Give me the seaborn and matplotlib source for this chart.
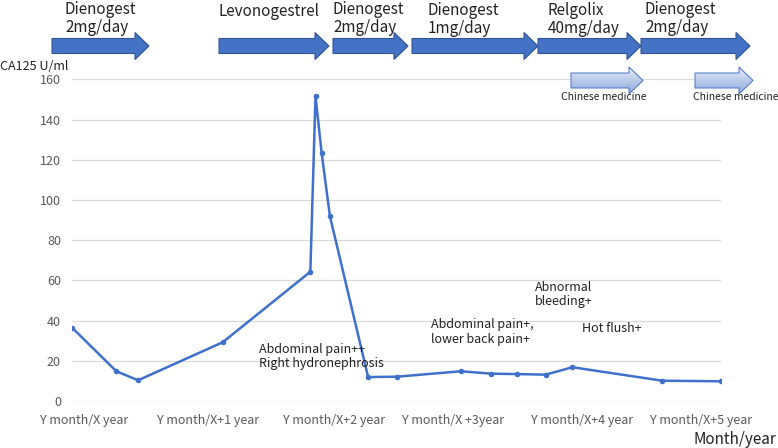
import matplotlib
matplotlib.use("Agg")
import matplotlib.pyplot as plt
import seaborn as sns
import numpy as np
import pandas as pd
from matplotlib.patches import Polygon
from matplotlib.colors import LinearSegmentedColormap

# CA125 measurements (months since first visit, U/ml)
months = [0, 4.3, 6.4, 14.6, 23.1, 23.6, 24.2, 25.0, 28.7, 31.5,
          37.7, 40.6, 43.1, 45.9, 48.5, 57.2, 62.9]
ca125 = [36.5, 14.8, 10.3, 29.2, 64.3, 151.7, 123.2, 91.9, 11.9, 12.1,
         14.8, 13.6, 13.4, 13.1, 16.8, 10.1, 9.8]

tick_months = [1.2, 13.2, 25.4, 36.9, 49.4, 61.0]
tick_labels = ["Y month/X year", "Y month/X+1 year", "Y month/X+2 year",
               "Y month/X +3year", "Y month/X+4 year", "Y month/X+5 year"]

treatments = ["Dienogest\n2mg/day", "Levonogestrel", "Dienogest\n2mg/day",
              "Dienogest\n1mg/day", "Relgolix\n40mg/day", "Dienogest\n2mg/day"]
symptoms = ["Abdominal pain++\nRight hydronephrosis",
            "Abdominal pain+,\nlower back pain+",
            "Abnormal\nbleeding+", "Hot flush+"]

W, H = 778, 448
BLUE = "#4472C4"

sns.set_theme(style="white")
plt.rcParams["font.family"] = ["Noto Sans CJK JP", "DejaVu Sans"]

fig = plt.figure(figsize=(W / 100, H / 100), dpi=100)
ax = fig.add_axes([72 / W, 1 - 401 / H, (721 - 72) / W, (401 - 79.4) / H])

df = pd.DataFrame({"month": months, "ca125": ca125})
sns.lineplot(data=df, x="month", y="ca125", estimator=None, color="#3F70CC",
             linewidth=1.8, marker="o", markersize=4, markeredgewidth=0, ax=ax)

ax.set_xlim(0, 62.9)
ax.set_ylim(0, 160)
ax.set_yticks(range(0, 161, 20))
ax.set_xticks(tick_months)
ax.set_xticklabels(tick_labels)
ax.set_xlabel("")
ax.set_ylabel("")
ax.yaxis.grid(True, color="#d9d9d9", linewidth=0.9)
ax.set_axisbelow(True)
for s in ax.spines.values():
    s.set_visible(False)
ax.tick_params(length=0, labelsize=9, colors="#595959", pad=8)
ax.tick_params(axis="x", pad=9)

# overlay in pixel coordinates for the treatment timeline and notes
ov = fig.add_axes([0, 0, 1, 1], facecolor="none")
ov.axis("off")


def arrow_pts(x0, x1, yc, bh=15, hh=27, hl=14):
    return [(x0, yc - bh / 2), (x1 - hl, yc - bh / 2), (x1 - hl, yc - hh / 2),
            (x1, yc), (x1 - hl, yc + hh / 2), (x1 - hl, yc + bh / 2),
            (x0, yc + bh / 2)]


arrow_spans = [(52, 149), (219, 329), (333, 408), (412, 538), (538, 641), (641, 750)]
label_pos = [(65, 1), (219, 3), (333, 1), (428, 2), (548, 2), (645, 1)]
for (x0, x1), (tx, ty), name in zip(arrow_spans, label_pos, treatments):
    ov.add_patch(Polygon(arrow_pts(x0, x1, 46), closed=True, facecolor=BLUE,
                         edgecolor="#2F5597", linewidth=0.8))
    ov.text(tx, ty, name, fontsize=11, color="#222222", va="top", ha="left",
            linespacing=1.05)

grad_cmap = LinearSegmentedColormap.from_list("cm", ["#e4ebf7", "#8faadc"])
grad = np.linspace(0, 1, 64).reshape(-1, 1)
for (x0, x1), tx in zip([(571, 643), (695, 753)], [561, 693]):
    pts = arrow_pts(x0, x1, 80.5, bh=15, hh=27, hl=14)
    poly = Polygon(pts, closed=True, facecolor="none", edgecolor=BLUE,
                   linewidth=0.7, zorder=2)
    ov.add_patch(poly)
    im = ov.imshow(grad, cmap=grad_cmap, aspect="auto",
                   extent=[x0, x1, 80.5 + 13.5, 80.5 - 13.5], zorder=1)
    im.set_clip_path(poly)
    ov.text(tx, 97, "Chinese medicine", fontsize=7.5, color="#222222",
            va="center", ha="left")
ov.set_xlim(0, W)
ov.set_ylim(H, 0)

note_pos = [(259, 343), (431, 318), (535, 281), (582, 328)]
for (nx, ny), note in zip(note_pos, symptoms):
    ov.text(nx, ny, note, fontsize=9, color="#222222",
            va="top" if "\n" in note else "center", ha="left", linespacing=1.15)

ov.text(0, 66.5, "CA125 U/ml", fontsize=9, color="#222222", va="center", ha="left")
ov.text(776, 440, "Month/year", fontsize=11, color="#222222", va="center", ha="right")

fig.savefig("out.png", dpi=100)
